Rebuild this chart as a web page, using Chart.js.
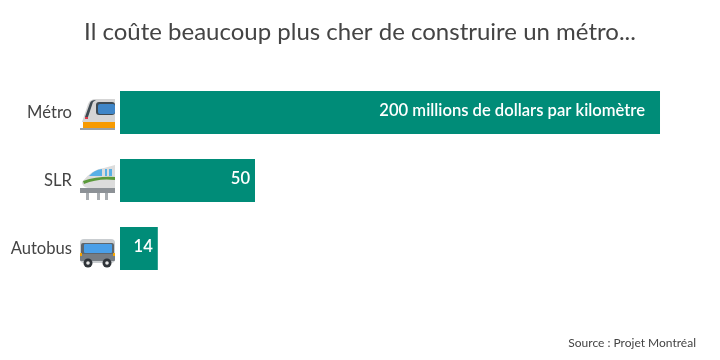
<!DOCTYPE html>
<html>
<head>
<meta charset="utf-8">
<style>
  html, body { margin: 0; padding: 0; background: #fff; }
  #wrap { width: 720px; height: 360px; }
</style>
<script src="https://cdn.jsdelivr.net/npm/chart.js@4"></script>
</head>
<body>
<div id="wrap"><canvas id="costChart" width="720" height="360"></canvas></div>
<script>
var categories = ['Métro', 'SLR', 'Autobus'];
var costs = [200, 50, 14];
var barLabels = ['200 millions de dollars par kilomètre', '50', '14'];

var GREEN = '#008c78';
var FONT = 'Lato, sans-serif';

function rr(c, x, y, w, h, r, fill) {
    c.fillStyle = fill;
    c.beginPath();
    c.roundRect(x, y, w, h, r);
    c.fill();
}

// little vehicle icons, drawn in a 36x36 box
function drawMetro(c) {
    c.fillStyle = '#d5d5d5';
    c.beginPath();
    c.moveTo(2, 25);
    c.lineTo(8, 7);
    c.quadraticCurveTo(10, 2, 16, 2);
    c.lineTo(35, 2);
    c.lineTo(35, 25);
    c.closePath();
    c.fill();
    c.fillStyle = '#3f4a52';
    c.beginPath();
    c.moveTo(5, 20);
    c.lineTo(10, 6);
    c.quadraticCurveTo(11, 3, 16, 3);
    c.lineTo(13, 5);
    c.lineTo(8, 20);
    c.closePath();
    c.fill();
    rr(c, 16, 5, 19, 13, 3, '#3f4a52');
    rr(c, 18, 7, 17, 10, 2, '#3f86c8');
    c.fillStyle = '#e0384a';
    c.fillRect(5, 20, 3, 2);
    c.fillStyle = '#f79a00';
    c.fillRect(3, 25, 32, 6);
    c.fillStyle = '#9aa0a5';
    c.fillRect(0, 31, 35, 2);
}

function drawLrt(c) {
    c.fillStyle = '#dcdcdc';
    c.beginPath();
    c.moveTo(2, 17);
    c.quadraticCurveTo(12, 4, 24, 3);
    c.lineTo(35, 0);
    c.lineTo(35, 23);
    c.lineTo(8, 23);
    c.quadraticCurveTo(2, 22, 2, 17);
    c.closePath();
    c.fill();
    c.fillStyle = '#58b0e6';
    c.beginPath();
    c.moveTo(9, 11);
    c.quadraticCurveTo(14, 5, 22, 4);
    c.lineTo(22, 11);
    c.closePath();
    c.fill();
    c.fillRect(25, 4, 2, 7);
    c.fillRect(29, 4, 3, 7);
    c.fillStyle = '#5a9a3a';
    c.beginPath();
    c.moveTo(3, 16);
    c.quadraticCurveTo(18, 11, 35, 12);
    c.lineTo(35, 15);
    c.quadraticCurveTo(18, 13, 4, 19);
    c.closePath();
    c.fill();
    c.fillStyle = '#8c9196';
    c.fillRect(0, 23, 35, 5);
    c.fillStyle = '#a9adb1';
    c.fillRect(6, 28, 3, 7);
    c.fillRect(17, 28, 3, 7);
    c.fillRect(25, 28, 3, 7);
}

function drawBus(c) {
    rr(c, 0, 1, 35, 24, 4, '#c9cdd0');
    rr(c, 1, 5, 33, 16, 2, '#5f666c');
    rr(c, 4, 6, 28, 9, 1, '#4a9fe8');
    rr(c, 0, 16, 35, 7, 1, '#777d83');
    c.fillStyle = '#f7a600';
    c.fillRect(0, 15, 2, 3);
    c.fillRect(33, 15, 2, 3);
    [8, 27].forEach(function (x) {
        c.fillStyle = '#2f3439';
        c.beginPath();
        c.arc(x, 25, 4.5, 0, Math.PI * 2);
        c.fill();
        c.fillStyle = '#e6e6e6';
        c.beginPath();
        c.arc(x, 25, 1.8, 0, Math.PI * 2);
        c.fill();
    });
}

var iconDrawers = [drawMetro, drawLrt, drawBus];
var iconOffsets = [-15.5, -15.5, -10.5];
var labelInsets = [15, 5, 5];

var decorPlugin = {
    id: 'decor',
    afterDatasetsDraw: function (chart) {
        var c = chart.ctx;
        var bars = chart.getDatasetMeta(0).data;
        bars.forEach(function (bar, i) {
            c.save();
            c.fillStyle = '#ffffff';
            c.font = '600 16.6px ' + FONT;
            c.textAlign = 'right';
            c.textBaseline = 'middle';
            c.fillText(barLabels[i], bar.x - labelInsets[i], bar.y - 2);
            c.restore();

            c.save();
            c.translate(80, bar.y + iconOffsets[i]);
            iconDrawers[i](c);
            c.restore();
        });

        // source line sits in the bottom right corner
        c.save();
        c.fillStyle = '#444444';
        c.font = '12px ' + FONT;
        c.textAlign = 'right';
        c.textBaseline = 'middle';
        c.fillText('Source : Projet Montréal', 696, 343);
        c.restore();
    }
};

var chart = new Chart(document.getElementById('costChart').getContext('2d'), {
    type: 'bar',
    data: {
        labels: categories,
        datasets: [{
            data: costs,
            backgroundColor: GREEN,
            borderWidth: 0,
            barPercentage: 1,
            categoryPercentage: 0.632
        }]
    },
    plugins: [decorPlugin],
    options: {
        indexAxis: 'y',
        responsive: false,
        animation: false,
        layout: { padding: { left: 0, right: 0, top: 18, bottom: 77.5 } },
        scales: {
            x: {
                display: false,
                min: 0,
                max: 222.22
            },
            y: {
                afterFit: function (scale) { scale.width = 120; },
                grid: { display: false },
                border: { display: false },
                ticks: {
                    padding: 40,
                    color: '#444444',
                    font: { family: FONT, size: 16.6 }
                }
            }
        },
        plugins: {
            legend: { display: false },
            tooltip: { enabled: false },
            title: {
                display: true,
                text: 'Il coûte beaucoup plus cher de construire un métro...',
                color: '#444444',
                font: { family: FONT, size: 24, weight: '400' },
                padding: { top: 0, bottom: 31.7 }
            }
        }
    }
});
</script>
</body>
</html>
